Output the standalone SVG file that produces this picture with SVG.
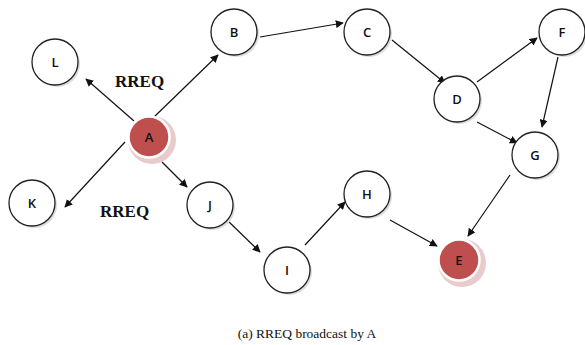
<svg xmlns="http://www.w3.org/2000/svg" width="585" height="345" viewBox="0 0 585 345">
<style>
.n{fill:#fff;stroke:#222;stroke-width:1.3}
.sh{fill:#dcdcdc}
.r{fill:#bf4f4f;stroke:#fff;stroke-width:2.5}
.rh{fill:#e8cccc}
.t{font-family:"Open Sans","DejaVu Sans",sans-serif;font-weight:600;font-size:13px;fill:#111;text-anchor:middle;dominant-baseline:central}
.e{stroke:#111;stroke-width:1.2;fill:none;marker-end:url(#ah)}
.lbl{font-family:"Liberation Serif",serif;font-weight:bold;font-size:17px;fill:#111}
.cap{font-family:"Liberation Serif",serif;font-size:13.5px;fill:#111;text-anchor:middle}
</style>
<defs>
<marker id="ah" viewBox="0 0 10 10" refX="9" refY="5" markerWidth="8" markerHeight="8" markerUnits="userSpaceOnUse" orient="auto">
<path d="M0,0 L10,5 L0,10 z" fill="#111"/>
</marker>
</defs>
<rect width="585" height="345" fill="#fff"/>
<g id="connectors">
<line class="e" x1="134" y1="121" x2="86" y2="79"/>
<line class="e" x1="153" y1="118" x2="218" y2="55"/>
<line class="e" x1="260" y1="37" x2="343" y2="23"/>
<line class="e" x1="392" y1="40" x2="445" y2="83"/>
<line class="e" x1="477" y1="82" x2="537" y2="38"/>
<line class="e" x1="558" y1="57" x2="542" y2="127"/>
<line class="e" x1="477" y1="122" x2="517" y2="143"/>
<line class="e" x1="125" y1="142" x2="65" y2="207"/>
<line class="e" x1="162" y1="162" x2="187" y2="187"/>
<line class="e" x1="227" y1="220" x2="260" y2="252"/>
<line class="e" x1="305" y1="245" x2="345" y2="202"/>
<line class="e" x1="390" y1="220" x2="437" y2="246"/>
<line class="e" x1="510" y1="175" x2="468" y2="236"/>
</g>
<g id="L"><circle class="sh" cx="57" cy="64" r="23"/><circle class="n" cx="55" cy="62" r="23"/><text class="t" x="55" y="62">L</text></g>
<g id="B"><circle class="sh" cx="236" cy="34" r="23"/><circle class="n" cx="234" cy="32" r="23"/><text class="t" x="234" y="32">B</text></g>
<g id="C"><circle class="sh" cx="369" cy="34" r="23"/><circle class="n" cx="367" cy="32" r="23"/><text class="t" x="367" y="32">C</text></g>
<g id="F"><circle class="sh" cx="564" cy="34" r="23"/><circle class="n" cx="562" cy="32" r="23"/><text class="t" x="562" y="32">F</text></g>
<g id="D"><circle class="sh" cx="459" cy="101" r="23"/><circle class="n" cx="457" cy="99" r="23"/><text class="t" x="457" y="99">D</text></g>
<g id="G"><circle class="sh" cx="537" cy="157" r="23"/><circle class="n" cx="535" cy="155" r="23"/><text class="t" x="535" y="155">G</text></g>
<g id="K"><circle class="sh" cx="34" cy="205" r="23"/><circle class="n" cx="32" cy="203" r="23"/><text class="t" x="32" y="203">K</text></g>
<g id="J"><circle class="sh" cx="212" cy="207" r="23"/><circle class="n" cx="210" cy="205" r="23"/><text class="t" x="210" y="205">J</text></g>
<g id="I"><circle class="sh" cx="289" cy="272" r="23"/><circle class="n" cx="287" cy="270" r="23"/><text class="t" x="287" y="270">I</text></g>
<g id="H"><circle class="sh" cx="369" cy="196" r="23"/><circle class="n" cx="367" cy="194" r="23"/><text class="t" x="367" y="194">H</text></g>
<g id="A"><circle class="rh" cx="152" cy="140" r="24"/><circle class="r" cx="149" cy="137" r="20.5"/><text class="t" x="149" y="137">A</text></g>
<g id="E"><circle class="rh" cx="462" cy="263" r="24"/><circle class="r" cx="459" cy="260" r="20.5"/><text class="t" x="459" y="260">E</text></g>
<text class="lbl" x="115" y="87">RREQ</text>
<text class="lbl" x="100" y="217">RREQ</text>
<text class="cap" x="307" y="338">(a) RREQ broadcast by A</text>
</svg>
